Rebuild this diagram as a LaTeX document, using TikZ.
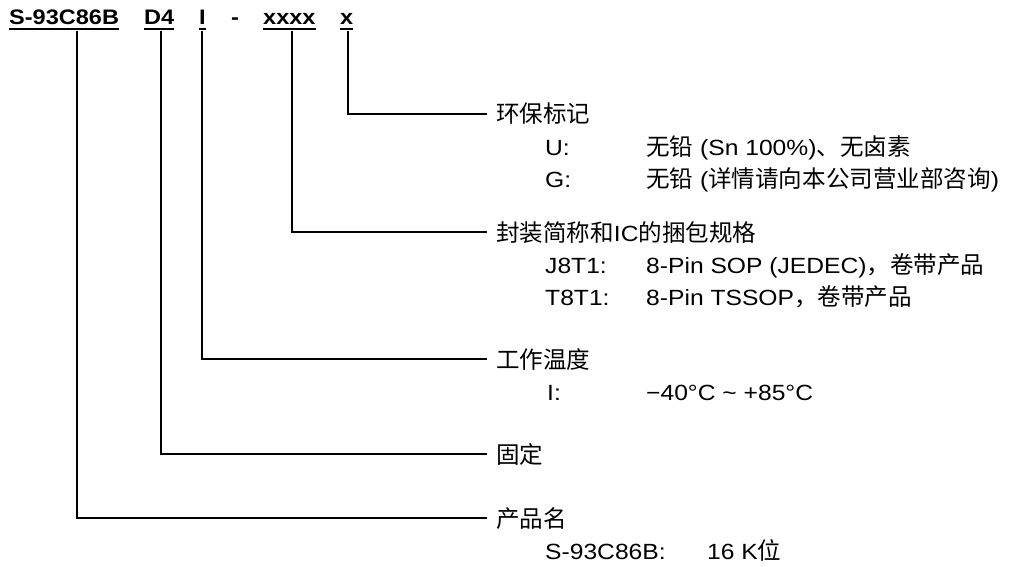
\documentclass[tikz,border=0pt]{standalone}
\usepackage{fontspec}
\setmainfont{Liberation Sans}[FakeStretch=1.12]
\newfontfamily\cjk{Noto Sans CJK SC}[Scale=1.07]
\begin{document}
\begin{tikzpicture}[x=1pt,y=-1pt,
  every node/.style={inner sep=0pt, anchor=base west},
  lbl/.style={font=\fontsize{22pt}{26pt}\selectfont},
  ttl/.style={font=\fontsize{21pt}{25pt}\selectfont\bfseries},
  conn/.style={line width=1.8pt},
  ul/.style={line width=2pt}]
\useasboundingbox (0,0) rectangle (1014,567);
% title parts
\node[ttl] (t1) at (9,25) {S-93C86B};
\node[ttl] (t2) at (144,25) {D4};
\node[ttl] (t3) at (199,25) {I};
\node[ttl] (t4) at (231,25) {-};
\node[ttl] (t5) at (263,25) {xxxx};
\node[ttl] (t6) at (340,25) {x};
\foreach \t in {t1,t2,t3,t5,t6}{
  \draw[ul] ([yshift=-4.5pt]\t.base west) -- ([yshift=-4.5pt]\t.base east);
}
% labels
\node[lbl] (l1) at (496,123) {{\cjk 环保标记}};
\node[lbl] (l1a) at (545,155) {U:};
\node[lbl] (l1av) at (646,155) {{\cjk 无铅} (Sn 100\%){\cjk 、无卤素}};
\node[lbl] (l1b) at (545,187) {G:};
\node[lbl] (l1bv) at (646,187) {{\cjk 无铅} ({\cjk 详情请向本公司营业部咨询})};
\node[lbl] (l2) at (496,241) {{\cjk 封装简称和}IC{\cjk 的捆包规格}};
\node[lbl] (l2a) at (545,273) {J8T1:};
\node[lbl] (l2av) at (646,273) {8-Pin SOP (JEDEC){\cjk ，卷带产品}};
\node[lbl] (l2b) at (545,305) {T8T1:};
\node[lbl] (l2bv) at (646,305) {8-Pin TSSOP{\cjk ，卷带产品}};
\node[lbl] (l3) at (496,368) {{\cjk 工作温度}};
\node[lbl] (l3a) at (547,400) {I:};
\node[lbl] (l3av) at (646,400) {−40°C \textasciitilde{} +85°C};
\node[lbl] (l4) at (496,463) {{\cjk 固定}};
\node[lbl] (l5) at (496,527) {{\cjk 产品名}};
\node[lbl] (l5a) at (545,559) {S-93C86B:};
\node[lbl] (l5av) at (707,559) {16 K{\cjk 位}};
% connectors
\draw[conn] (t6.base west) ++(8,6) |- ([xshift=-9pt,yshift=9pt]l1.base west);
\draw[conn] (t5.base west) ++(29,6) |- ([xshift=-9pt,yshift=9pt]l2.base west);
\draw[conn] (t3.base west) ++(3,6) |- ([xshift=-9pt,yshift=9pt]l3.base west);
\draw[conn] (t2.base west) ++(17,6) |- ([xshift=-9pt,yshift=9pt]l4.base west);
\draw[conn] (t1.base west) ++(68,6) |- ([xshift=-9pt,yshift=9pt]l5.base west);
\end{tikzpicture}
\end{document}
